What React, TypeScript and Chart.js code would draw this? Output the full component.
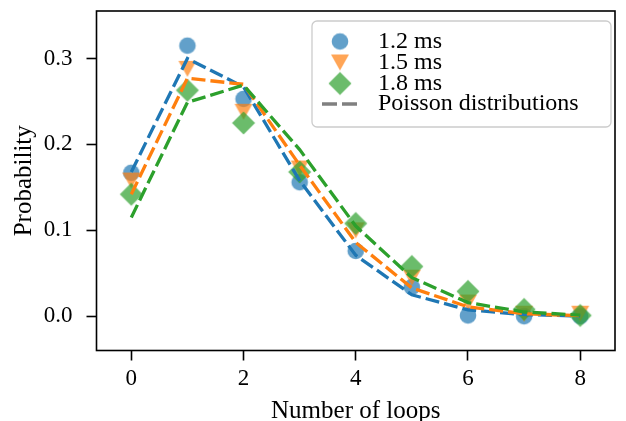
import React, { useEffect, useRef } from "react";
import { Chart, registerables } from "chart.js";

Chart.register(...registerables);

// ---- data ----
const loops = [0, 1, 2, 3, 4, 5, 6, 7, 8];
const measured12 = [0.167, 0.315, 0.253, 0.156, 0.076, 0.034, 0.001, 0.0, 0.0];
const measured15 = [0.158, 0.288, 0.238, 0.172, 0.1, 0.045, 0.016, 0.003, 0.003];
const measured18 = [0.142, 0.263, 0.225, 0.168, 0.108, 0.058, 0.029, 0.008, 0.001];
const poisson12 = [0.168, 0.3, 0.267, 0.158, 0.071, 0.025, 0.0075, 0.002, 0.0004];
const poisson15 = [0.142, 0.277, 0.27, 0.176, 0.086, 0.033, 0.011, 0.003, 0.0007];
const poisson18 = [0.115, 0.249, 0.269, 0.194, 0.105, 0.045, 0.016, 0.005, 0.0014];
const seriesLabels = ["1.2 ms", "1.5 ms", "1.8 ms"];
const lineLabel = "Poisson distributions";
const xTicks = [0, 2, 4, 6, 8];
const yTicks = [0, 0.1, 0.2, 0.3];
const xTitle = "Number of loops";
const yTitle = "Probability";

const FONT = "'Liberation Serif', 'DejaVu Serif', serif";
const lineColors = ["#1f77b4", "#ff7f0e", "#2ca02c"];
const markerFills = ["rgba(31,119,180,0.7)", "rgba(255,127,14,0.7)", "rgba(44,160,44,0.7)"];

type Kind = "circle" | "tri" | "diamond";
const kinds: Kind[] = ["circle", "tri", "diamond"];

function makeMarker(kind: Kind, fill: string): HTMLCanvasElement {
  const size = 28;
  const c = document.createElement("canvas");
  c.width = size;
  c.height = size;
  const g = c.getContext("2d")!;
  const m = size / 2;
  g.fillStyle = fill;
  g.beginPath();
  if (kind === "circle") {
    g.arc(m, m, 8.3, 0, Math.PI * 2);
  } else if (kind === "tri") {
    g.moveTo(m - 9, m - 8);
    g.lineTo(m + 9, m - 8);
    g.lineTo(m, m + 8);
    g.closePath();
  } else {
    const r = 11.5;
    g.moveTo(m, m - r);
    g.lineTo(m + r, m);
    g.lineTo(m, m + r);
    g.lineTo(m - r, m);
    g.closePath();
  }
  g.fill();
  return c;
}

export default function App() {
  const ref = useRef<HTMLCanvasElement | null>(null);

  useEffect(() => {
    if (!ref.current) return;
    const markers = kinds.map((k, i) => makeMarker(k, markerFills[i]));
    const measured = [measured12, measured15, measured18];
    const poisson = [poisson12, poisson15, poisson18];

    const toPts = (arr: number[]) => loops.map((x, i) => ({ x, y: arr[i] }));

    const lineSets = [2, 1, 0].map((i) => ({
      type: "line" as const,
      label: lineLabel + " " + i,
      data: toPts(poisson[i]),
      borderColor: lineColors[i],
      borderWidth: 3.3,
      borderDash: [14, 5],
      pointRadius: 0,
      showLine: true,
      fill: false,
      tension: 0,
    }));
    const scatterSets = [2, 1, 0].map((i) => ({
      type: "scatter" as const,
      label: seriesLabels[i],
      data: toPts(measured[i]),
      pointStyle: markers[i],
      pointRadius: 10,
      showLine: false,
    }));

    const framePlugin = {
      id: "frame",
      afterDraw(chart: any) {
        const { ctx, chartArea: a } = chart;
        ctx.save();
        ctx.strokeStyle = "#000";
        ctx.lineWidth = 1.6;
        ctx.strokeRect(a.left, a.top, a.right - a.left, a.bottom - a.top);

        // legend
        const bx = 312, by = 21, bw = 299, bh = 106, r = 5;
        ctx.beginPath();
        ctx.moveTo(bx + r, by);
        ctx.arcTo(bx + bw, by, bx + bw, by + bh, r);
        ctx.arcTo(bx + bw, by + bh, bx, by + bh, r);
        ctx.arcTo(bx, by + bh, bx, by, r);
        ctx.arcTo(bx, by, bx + bw, by, r);
        ctx.closePath();
        ctx.fillStyle = "rgba(255,255,255,0.8)";
        ctx.fill();
        ctx.strokeStyle = "#cccccc";
        ctx.lineWidth = 1.3;
        ctx.stroke();

        const rows = [41.5, 62.5, 83.5, 104];
        const mx = 340;
        const tx = 378;
        ctx.font = `24px ${FONT}`;
        ctx.fillStyle = "#000";
        ctx.textBaseline = "middle";
        ctx.textAlign = "left";
        for (let i = 0; i < 3; i++) {
          const mk = markers[i];
          ctx.drawImage(mk, mx - mk.width / 2, rows[i] - mk.height / 2);
          ctx.fillStyle = "#000";
          ctx.fillText(seriesLabels[i], tx, rows[i]);
        }
        ctx.strokeStyle = "#808080";
        ctx.lineWidth = 3.3;
        ctx.setLineDash([15, 5]);
        ctx.beginPath();
        ctx.moveTo(322, rows[3]);
        ctx.lineTo(357, rows[3]);
        ctx.stroke();
        ctx.setLineDash([]);
        ctx.fillStyle = "#000";
        ctx.fillText(lineLabel, tx, rows[3]);
        ctx.restore();
      },
    };

    const chart = new Chart(ref.current, {
      type: "scatter",
      data: { datasets: [...lineSets, ...scatterSets] as any },
      plugins: [framePlugin],
      options: {
        animation: false,
        responsive: false,
        devicePixelRatio: 1,
        layout: { padding: { left: 0, top: 8, right: 4, bottom: 0 } },
        plugins: { legend: { display: false }, tooltip: { enabled: false } },
        scales: {
          x: {
            type: "linear",
            min: -0.62,
            max: 8.62,
            afterBuildTicks: (s: any) => {
              s.ticks = xTicks.map((v) => ({ value: v }));
            },
            afterFit: (s: any) => {
              s.height = 70.5;
              s.paddingLeft = 0;
              s.paddingRight = 0;
              s.paddingTop = 0;
              s.paddingBottom = 0;
            },
            ticks: {
              callback: (v: any) => String(v),
              font: { family: FONT, size: 23 },
              color: "#000",
              padding: 5,
              maxRotation: 0,
              autoSkip: false,
            },
            grid: {
              drawOnChartArea: false,
              drawTicks: true,
              tickLength: 10,
              tickWidth: 1.6,
              tickColor: "#000",
              color: "#000",
            },
            border: { display: false },
            title: {
              display: true,
              text: xTitle,
              color: "#000",
              font: { family: FONT, size: 25, lineHeight: 0.8 },
              padding: { top: 0, bottom: 0 },
            },
          },
          y: {
            type: "linear",
            min: -0.0398,
            max: 0.3553,
            afterBuildTicks: (s: any) => {
              s.ticks = yTicks.map((v) => ({ value: v }));
            },
            afterFit: (s: any) => {
              s.width = 96.5;
              s.paddingLeft = 0;
              s.paddingRight = 0;
              s.paddingTop = 0;
              s.paddingBottom = 0;
            },
            ticks: {
              callback: (v: any) => Number(v).toFixed(1),
              font: { family: FONT, size: 23 },
              color: "#000",
              padding: 14,
              autoSkip: false,
            },
            grid: {
              drawOnChartArea: false,
              drawTicks: true,
              tickLength: 10,
              tickWidth: 1.6,
              tickColor: "#000",
              color: "#000",
            },
            border: { display: false },
            title: {
              display: true,
              text: yTitle,
              color: "#000",
              font: { family: FONT, size: 25, lineHeight: 0.8 },
              padding: { top: 14, bottom: 0 },
            },
          },
        },
      } as any,
    });
    return () => chart.destroy();
  }, []);

  return (
    <div style={{ position: "absolute", left: 0, top: 0, width: 626, height: 421, background: "#fff" }}>
      <canvas ref={ref} width={626} height={421} style={{ display: "block" }} />
    </div>
  );
}
